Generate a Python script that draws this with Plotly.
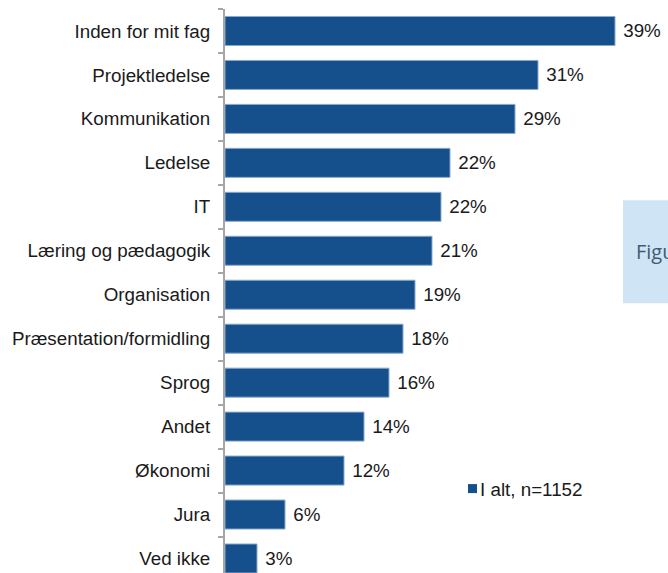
import plotly.graph_objects as go

categories = ["Inden for mit fag", "Projektledelse", "Kommunikation", "Ledelse", "IT",
              "Læring og pædagogik", "Organisation", "Præsentation/formidling", "Sprog",
              "Andet", "Økonomi", "Jura", "Ved ikke"]
values = [39.0, 31.3, 29.0, 22.5, 21.6, 20.7, 19.0, 17.8, 16.4, 13.9, 11.9, 6.0, 3.2]
labels = ["39%", "31%", "29%", "22%", "22%", "21%", "19%", "18%", "16%", "14%", "12%", "6%", "3%"]
series_name = "I alt, n=1152"

FONT = "Liberation Sans, Arial, sans-serif"
BAR = "#154F8C"
FS = 18.8

# figure sits at the page's top-left corner (body margin removed below)
L, T, PW, PH = 225, 8.5, 443, 564.5
def px(X):
    return (X - L) / PW
def py(Y):
    return 1 - (Y - T) / PH

fig = go.Figure()
fig.add_trace(go.Bar(
    x=values, y=categories, orientation="h", name=series_name,
    marker=dict(color=BAR, line=dict(color="#8AA9CF", width=1)),
    width=0.66,
    text=["\u00a0" + t for t in labels], textposition="outside", cliponaxis=False,
    textfont=dict(family=FONT, size=FS, color="#1a1a1a"),
    showlegend=False,
))

fig.update_layout(
    width=668, height=573,
    margin=dict(l=L, r=0, t=T, b=0),
    paper_bgcolor="white", plot_bgcolor="white",
    font=dict(family=FONT, size=FS, color="#1a1a1a"),
    xaxis=dict(range=[0, 44.3], visible=False),
    yaxis=dict(type="category", categoryorder="array", categoryarray=categories,
               range=[12.33, -0.5], showline=True, linecolor="#A6A6A6", linewidth=2,
               ticks="outside", tickson="boundaries", ticklen=5, tickcolor="#A6A6A6",
               tickwidth=1.5, showgrid=False, zeroline=False, ticklabelstandoff=9,
               tickfont=dict(family=FONT, size=FS, color="#1a1a1a")),
    showlegend=False,
    shapes=[
        dict(type="rect", xref="paper", yref="paper",
             x0=px(623), x1=px(700), y0=py(303), y1=py(200),
             fillcolor="#CFE4F5", line=dict(width=0), layer="below"),
        dict(type="rect", xref="paper", yref="paper",
             x0=px(468), x1=px(477), y0=py(493), y1=py(484),
             fillcolor=BAR, line=dict(width=0)),
    ],
    annotations=[
        dict(text="Figur", xref="paper", yref="paper",
             x=px(634), y=py(251), xanchor="left", yanchor="middle",
             showarrow=False, font=dict(family="Open Sans", size=20, color="#3E5C73")),
        dict(text=series_name, xref="paper", yref="paper",
             x=px(478), y=py(489), xanchor="left", yanchor="middle",
             showarrow=False, font=dict(family=FONT, size=FS, color="#1a1a1a")),
    ],
)

fig.write_html("out.html",
               config={"displayModeBar": False},
               post_script="document.body.style.margin='0';"
                           "document.documentElement.style.overflow='hidden';"
                           "document.body.style.overflow='hidden';")
